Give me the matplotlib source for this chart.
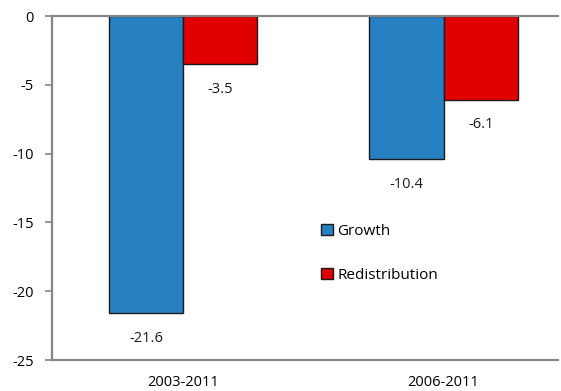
import numpy as np
import matplotlib.pyplot as plt

plt.rcParams['font.family'] = ['Open Sans', 'DejaVu Sans']

# Data
periods = ['2003-2011', '2006-2011']
growth = [-21.6, -10.4]
redistribution = [-3.5, -6.1]
yticks = [0, -5, -10, -15, -20, -25]

blue = '#2680c2'
red = '#e00000'
grey = '#868686'

fig = plt.figure(figsize=(5.61, 3.91), dpi=100)
ax = fig.add_axes([0.093, 0.079, 0.902, 0.880])

x = np.arange(len(periods))
w = 0.285
b1 = ax.bar(x - w / 2, growth, w, color=blue, edgecolor='#1a1a1a', linewidth=1.0, label='Growth')
b2 = ax.bar(x + w / 2, redistribution, w, color=red, edgecolor='#1a1a1a', linewidth=1.0, label='Redistribution')

# value labels below each bar end
for bars, vals in ((b1, growth), (b2, redistribution)):
    for bar, v in zip(bars, vals):
        ax.annotate(f'{v}', (bar.get_x() + bar.get_width() / 2, v),
                    xytext=(0, -18), textcoords='offset points',
                    ha='center', va='center', fontsize=10.5, color='#1a1a1a')

ax.set_ylim(-25, 0)
ax.set_xlim(-0.502, 1.44)
ax.set_yticks(yticks)
ax.set_yticklabels([str(t) for t in yticks], fontsize=10.5)
ax.set_xticks(x)
ax.set_xticklabels(periods, fontsize=10.5)
ax.tick_params(axis='x', length=0, pad=11)
ax.tick_params(axis='y', length=5, color=grey, width=1.2, pad=8)

for side in ('left', 'top', 'bottom'):
    ax.spines[side].set_color(grey)
    ax.spines[side].set_linewidth(1.6)
ax.spines['right'].set_visible(False)

ax.legend(loc='center left', bbox_to_anchor=(0.505, 0.31), frameon=False,
          fontsize=11, handlelength=0.75, handleheight=0.75, handletextpad=0.3,
          labelspacing=1.9)

fig.savefig('out.png', dpi=100)
